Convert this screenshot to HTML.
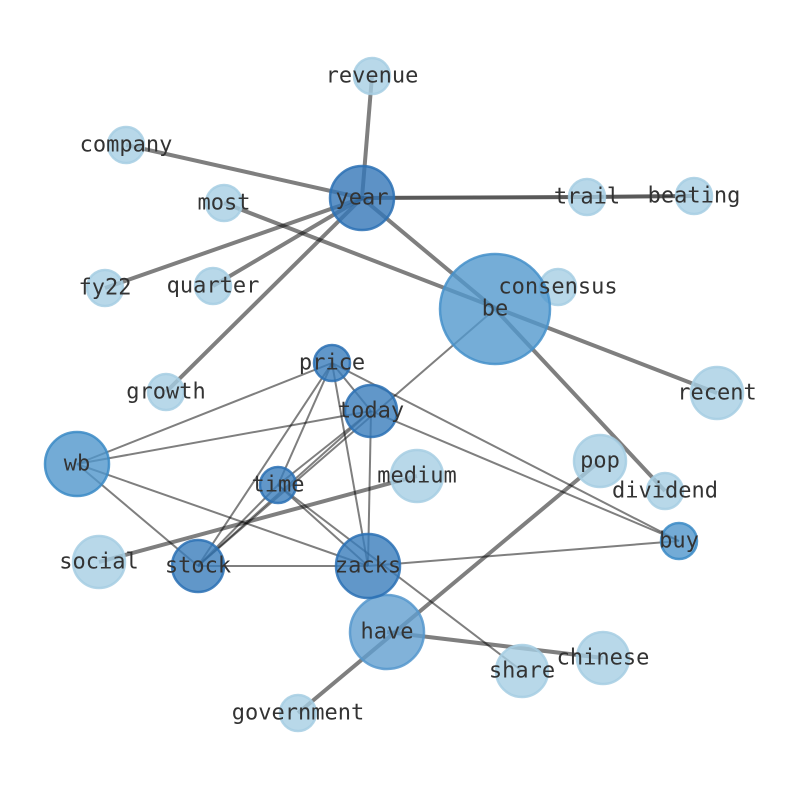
<!DOCTYPE html>
<html><head><style>body{margin:0;background:#fff}svg{display:block}text{font-family:"DejaVu Sans Mono","Liberation Mono",monospace;font-size:22px;fill:#333;text-anchor:middle;dominant-baseline:central}</style></head><body>
<svg width="794" height="790" viewBox="0 0 794 790">
<g stroke="#000" stroke-opacity="0.5" stroke-width="4" fill="none">
<line x1="362" y1="198" x2="372" y2="76"/>
<line x1="362" y1="198" x2="126" y2="145"/>
<line x1="362" y1="198" x2="105" y2="288"/>
<line x1="362" y1="198" x2="213" y2="286"/>
<line x1="362" y1="198" x2="166" y2="392"/>
<line x1="362" y1="198" x2="495" y2="309"/>
<line x1="224" y1="203" x2="717" y2="393"/>
<line x1="495" y1="309" x2="665" y2="491"/>
<line x1="387" y1="632" x2="603" y2="658"/>
<line x1="298" y1="713" x2="600" y2="461"/>
<line x1="417" y1="476" x2="99" y2="562"/>
</g>
<g stroke="#000" stroke-opacity="0.65" stroke-width="4">
<line x1="362" y1="198" x2="587" y2="197"/>
<line x1="587" y1="197" x2="694" y2="196"/>
</g>
<g stroke="#000" stroke-opacity="0.5" stroke-width="2">
<line x1="332" y1="363" x2="77" y2="464"/>
<line x1="332" y1="363" x2="198" y2="566"/>
<line x1="332" y1="363" x2="278" y2="485"/>
<line x1="332" y1="363" x2="368" y2="566"/>
<line x1="332" y1="363" x2="371" y2="411"/>
<line x1="332" y1="363" x2="679" y2="541"/>
<line x1="371" y1="411" x2="77" y2="464"/>
<line x1="371" y1="411" x2="198" y2="566"/>
<line x1="371" y1="411" x2="278" y2="485"/>
<line x1="371" y1="411" x2="368" y2="566"/>
<line x1="371" y1="411" x2="679" y2="541"/>
<line x1="495" y1="309" x2="198" y2="566"/>
<line x1="278" y1="485" x2="198" y2="566"/>
<line x1="278" y1="485" x2="368" y2="566"/>
<line x1="278" y1="485" x2="522" y2="671"/>
<line x1="77" y1="464" x2="198" y2="566"/>
<line x1="77" y1="464" x2="368" y2="566"/>
<line x1="198" y1="566" x2="368" y2="566"/>
<line x1="368" y1="566" x2="679" y2="541"/>
</g>
<g stroke-width="2.5" fill-opacity="0.8" stroke-opacity="0.85">
<circle cx="372" cy="76" r="18" fill="#a6cee3" stroke="#a6cee3"/>
<circle cx="126" cy="145" r="18" fill="#a6cee3" stroke="#a6cee3"/>
<circle cx="224" cy="203" r="18" fill="#a6cee3" stroke="#a6cee3"/>
<circle cx="587" cy="197" r="18" fill="#a6cee3" stroke="#a6cee3"/>
<circle cx="694" cy="196" r="18" fill="#a6cee3" stroke="#a6cee3"/>
<circle cx="105" cy="288" r="18" fill="#a6cee3" stroke="#a6cee3"/>
<circle cx="213" cy="286" r="18" fill="#a6cee3" stroke="#a6cee3"/>
<circle cx="558" cy="287" r="18" fill="#a6cee3" stroke="#a6cee3"/>
<circle cx="166" cy="392" r="18" fill="#a6cee3" stroke="#a6cee3"/>
<circle cx="717" cy="393" r="26" fill="#a6cee3" stroke="#a6cee3"/>
<circle cx="417" cy="476" r="26" fill="#a6cee3" stroke="#a6cee3"/>
<circle cx="600" cy="461" r="26" fill="#a6cee3" stroke="#a6cee3"/>
<circle cx="665" cy="491" r="18" fill="#a6cee3" stroke="#a6cee3"/>
<circle cx="99" cy="562" r="26" fill="#a6cee3" stroke="#a6cee3"/>
<circle cx="522" cy="671" r="26" fill="#a6cee3" stroke="#a6cee3"/>
<circle cx="603" cy="658" r="26" fill="#a6cee3" stroke="#a6cee3"/>
<circle cx="298" cy="713" r="18" fill="#a6cee3" stroke="#a6cee3"/>
<circle cx="495" cy="309" r="55" fill="#5399cd" stroke="#4590ca"/>
<circle cx="387" cy="632" r="37" fill="#629fd0" stroke="#5597cc"/>
<circle cx="77" cy="464" r="32" fill="#5096cc" stroke="#3a89c6"/>
<circle cx="679" cy="541" r="18" fill="#5096cc" stroke="#3a89c6"/>
<circle cx="362" cy="198" r="32" fill="#3577b8" stroke="#2a70b4"/>
<circle cx="332" cy="363" r="18" fill="#3a7dbc" stroke="#2a70b4"/>
<circle cx="371" cy="411" r="26" fill="#3a7dbc" stroke="#2a70b4"/>
<circle cx="278" cy="485" r="18" fill="#3a7dbc" stroke="#2a70b4"/>
<circle cx="198" cy="566" r="26" fill="#3a7dbc" stroke="#2a70b4"/>
<circle cx="368" cy="566" r="32" fill="#3a7dbc" stroke="#2a70b4"/>
</g>
<text x="372" y="76">revenue</text>
<text x="126" y="145">company</text>
<text x="362" y="198">year</text>
<text x="224" y="203">most</text>
<text x="587" y="197">trail</text>
<text x="694" y="196">beating</text>
<text x="105" y="288">fy22</text>
<text x="213" y="286">quarter</text>
<text x="558" y="287">consensus</text>
<text x="495" y="309">be</text>
<text x="332" y="363">price</text>
<text x="166" y="392">growth</text>
<text x="717" y="393">recent</text>
<text x="371" y="411">today</text>
<text x="77" y="464">wb</text>
<text x="417" y="476">medium</text>
<text x="600" y="461">pop</text>
<text x="665" y="491">dividend</text>
<text x="278" y="485">time</text>
<text x="679" y="541">buy</text>
<text x="99" y="562">social</text>
<text x="198" y="566">stock</text>
<text x="368" y="566">zacks</text>
<text x="387" y="632">have</text>
<text x="522" y="671">share</text>
<text x="603" y="658">chinese</text>
<text x="298" y="713">government</text>
</svg>
</body></html>
